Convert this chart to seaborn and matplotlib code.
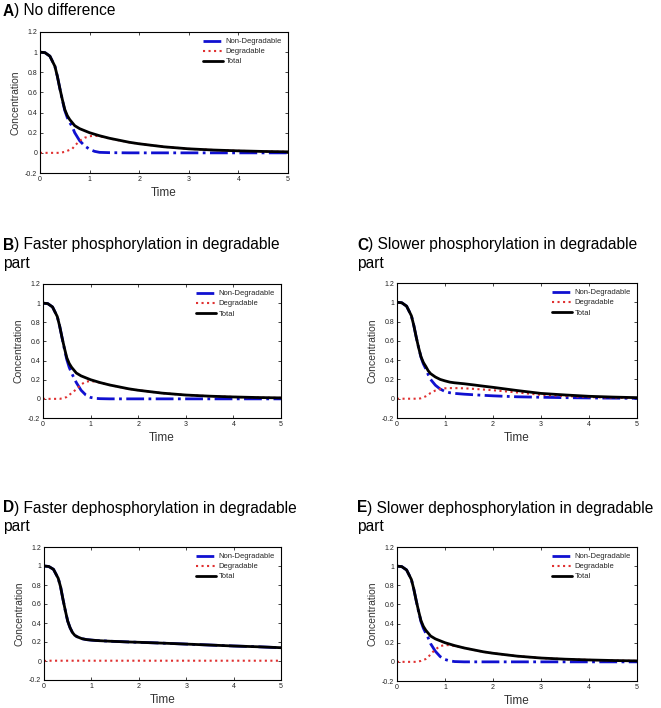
import numpy as np
import pandas as pd
import matplotlib
matplotlib.use("Agg")
import matplotlib.pyplot as plt
import seaborn as sns

sns.set_style("ticks")
plt.rcParams['font.family'] = ['Liberation Sans', 'DejaVu Sans']

# time points (shared by all panels)
t = [0, 0.1, 0.2, 0.3, 0.35, 0.4, 0.45, 0.5, 0.55, 0.6, 0.65, 0.7, 0.8, 0.9,
     1.0, 1.1, 1.2, 1.4, 1.6, 1.8, 2.0, 2.5, 3.0, 3.5, 4.0, 4.5, 5.0]

# A) no difference
a_nondeg = [1.0, 0.995, 0.96, 0.86, 0.76, 0.64, 0.525, 0.42, 0.35, 0.30, 0.26, 0.20, 0.12, 0.07,
            0.035, 0.015, 0.005, 0.002, 0.001, 0.0, 0.0, 0.0, 0.0, 0.0, 0.0, 0.0, 0.0]
a_deg = [0.0, 0.0, 0.0, 0.0, 0.0, 0.0, 0.005, 0.01, 0.02, 0.03, 0.04, 0.07, 0.12, 0.15,
         0.165, 0.17, 0.165, 0.143, 0.124, 0.105, 0.09, 0.06, 0.04, 0.028, 0.02, 0.014, 0.01]
a_total = [1.0, 0.995, 0.96, 0.86, 0.76, 0.64, 0.53, 0.43, 0.37, 0.33, 0.30, 0.27, 0.24, 0.22,
           0.20, 0.185, 0.17, 0.145, 0.125, 0.105, 0.09, 0.06, 0.04, 0.028, 0.02, 0.014, 0.01]

# B) faster phosphorylation in degradable part
b_nondeg = [1.0, 0.995, 0.96, 0.86, 0.76, 0.64, 0.52, 0.41, 0.33, 0.27, 0.22, 0.17, 0.09, 0.04,
            0.015, 0.005, 0.002, 0.0, 0.0, 0.0, 0.0, 0.0, 0.0, 0.0, 0.0, 0.0, 0.0]
b_deg = [0.0, 0.0, 0.0, 0.0, 0.0, 0.005, 0.01, 0.02, 0.04, 0.06, 0.08, 0.10, 0.15, 0.18,
         0.185, 0.18, 0.168, 0.145, 0.125, 0.105, 0.09, 0.06, 0.04, 0.028, 0.02, 0.014, 0.01]
b_total = [1.0, 0.995, 0.96, 0.86, 0.76, 0.64, 0.53, 0.43, 0.37, 0.33, 0.30, 0.27, 0.24, 0.22,
           0.20, 0.185, 0.17, 0.145, 0.125, 0.105, 0.09, 0.06, 0.04, 0.028, 0.02, 0.014, 0.01]

# C) slower phosphorylation in degradable part
c_nondeg = [1.0, 0.995, 0.96, 0.86, 0.76, 0.64, 0.53, 0.43, 0.36, 0.31, 0.25, 0.20, 0.14, 0.10,
            0.075, 0.062, 0.055, 0.047, 0.041, 0.035, 0.03, 0.02, 0.015, 0.011, 0.008, 0.006, 0.004]
c_deg = [0.0, 0.0, 0.0, 0.0, 0.0, 0.0, 0.0, 0.005, 0.015, 0.025, 0.04, 0.06, 0.085, 0.10,
         0.108, 0.11, 0.11, 0.108, 0.102, 0.095, 0.088, 0.065, 0.04, 0.028, 0.017, 0.011, 0.007]
c_total = [1.0, 0.995, 0.96, 0.86, 0.76, 0.64, 0.53, 0.435, 0.375, 0.335, 0.29, 0.26, 0.225, 0.20,
           0.185, 0.172, 0.165, 0.155, 0.143, 0.13, 0.118, 0.085, 0.055, 0.039, 0.025, 0.017, 0.011]

# D) faster dephosphorylation in degradable part
d_nondeg = [1.0, 0.995, 0.965, 0.87, 0.78, 0.65, 0.53, 0.42, 0.35, 0.30, 0.27, 0.255, 0.235, 0.225,
            0.22, 0.216, 0.213, 0.208, 0.204, 0.2, 0.197, 0.188, 0.178, 0.168, 0.158, 0.15, 0.14]
d_deg = [0.0, 0.003, 0.003, 0.003, 0.003, 0.003, 0.003, 0.003, 0.003, 0.003, 0.003, 0.003, 0.003, 0.003,
         0.003, 0.003, 0.003, 0.003, 0.003, 0.003, 0.003, 0.003, 0.003, 0.003, 0.003, 0.003, 0.003]
d_total = [1.0, 0.995, 0.965, 0.87, 0.78, 0.65, 0.53, 0.42, 0.35, 0.30, 0.27, 0.255, 0.235, 0.225,
           0.22, 0.216, 0.213, 0.208, 0.204, 0.2, 0.197, 0.188, 0.178, 0.168, 0.158, 0.15, 0.14]

# E) slower dephosphorylation in degradable part
e_nondeg = [1.0, 0.995, 0.96, 0.86, 0.76, 0.64, 0.525, 0.42, 0.35, 0.30, 0.25, 0.19, 0.11, 0.055,
            0.025, 0.01, 0.003, 0.0, 0.0, 0.0, 0.0, 0.0, 0.0, 0.0, 0.0, 0.0, 0.0]
e_deg = [0.0, 0.0, 0.0, 0.0, 0.0, 0.0, 0.005, 0.01, 0.02, 0.03, 0.05, 0.08, 0.13, 0.165,
         0.175, 0.175, 0.167, 0.145, 0.125, 0.105, 0.09, 0.06, 0.04, 0.028, 0.02, 0.014, 0.01]
e_total = [1.0, 0.995, 0.96, 0.86, 0.76, 0.64, 0.53, 0.43, 0.37, 0.33, 0.30, 0.27, 0.24, 0.22,
           0.20, 0.185, 0.17, 0.145, 0.125, 0.105, 0.09, 0.06, 0.04, 0.028, 0.02, 0.014, 0.01]

yticks = [-0.2, 0, 0.2, 0.4, 0.6, 0.8, 1, 1.2]
xticks = [0, 1, 2, 3, 4, 5]

W, H = 661, 708
fig = plt.figure(figsize=(W / 100, H / 100), dpi=100)


def px_axes(left, top, right, bottom):
    return fig.add_axes([left / W, 1 - bottom / H, (right - left) / W, (bottom - top) / H])


def draw_panel(ax, nondeg, deg, total):
    sns.lineplot(x=t, y=nondeg, ax=ax, color='#1010d0', linestyle='-.', lw=2.0,
                 label='Non-Degradable')
    sns.lineplot(x=t, y=deg, ax=ax, color='#e03030', linestyle=':', lw=1.5,
                 label='Degradable')
    sns.lineplot(x=t, y=total, ax=ax, color='black', linestyle='-', lw=2.0,
                 label='Total')
    ax.set_xlim(0, 5)
    ax.set_ylim(-0.2, 1.2)
    ax.set_xticks(xticks)
    ax.set_yticks(yticks)
    ax.set_xticklabels(['%g' % v for v in xticks])
    ax.set_yticklabels(['%g' % v for v in yticks])
    ax.tick_params(direction='in', length=2.5, width=0.6, labelsize=5,
                   top=True, right=True, pad=2, labelcolor='#222222')
    for s in ax.spines.values():
        s.set_linewidth(0.8)
        s.set_color('black')
    ax.set_xlabel('Time', fontsize=8.5, color='#333333', labelpad=3)
    ax.set_ylabel('Concentration', fontsize=7.5, color='#333333', labelpad=3)
    ax.legend(loc='upper right', frameon=False, fontsize=5.5, handlelength=2.6,
              handletextpad=0.3, labelspacing=0.35, borderaxespad=0.4)


def title(x, y, letter, rest, second=None):
    r = fig.canvas.get_renderer()
    t1 = fig.text(x / W, 1 - y / H, letter, fontsize=11.2, fontweight='bold',
                  va='center', color='black')
    bb = t1.get_window_extent(renderer=r)
    fig.text(bb.x1 / W, 1 - y / H, rest, fontsize=11.2, va='center', color='black')
    if second:
        fig.text(x / W, 1 - (y + 18) / H, second, fontsize=11.2, va='center', color='black')


axA = px_axes(40, 32, 288, 173)
draw_panel(axA, a_nondeg, a_deg, a_total)
axB = px_axes(43, 284, 281, 418)
draw_panel(axB, b_nondeg, b_deg, b_total)
axC = px_axes(397, 283, 637, 418)
draw_panel(axC, c_nondeg, c_deg, c_total)
axD = px_axes(44, 547, 281, 680)
draw_panel(axD, d_nondeg, d_deg, d_total)
axE = px_axes(397, 547, 637, 681)
draw_panel(axE, e_nondeg, e_deg, e_total)

title(3, 11, 'A', ') No difference')
title(3, 245, 'B', ') Faster phosphorylation in degradable', 'part')
title(357, 245, 'C', ') Slower phosphorylation in degradable', 'part')
title(3, 508, 'D', ') Faster dephosphorylation in degradable', 'part')
title(357, 508, 'E', ') Slower dephosphorylation in degradable', 'part')

fig.savefig('out.png', dpi=100)
